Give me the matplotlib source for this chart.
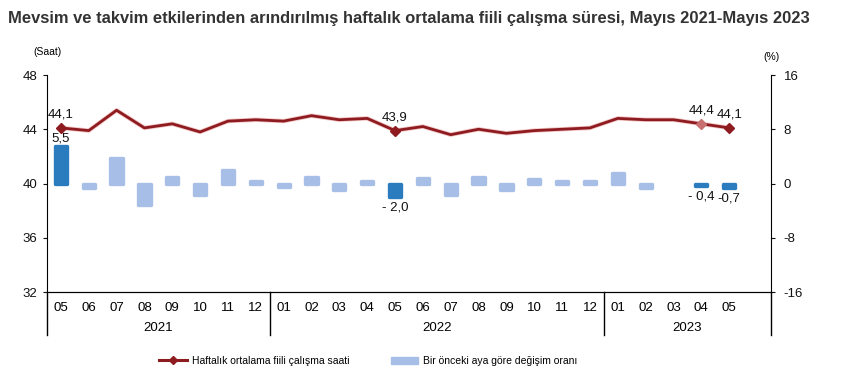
import matplotlib.pyplot as plt
from matplotlib import patheffects as pe
from matplotlib.transforms import blended_transform_factory

# =====================
# 全局设置
# =====================
plt.rcParams['font.family'] = ['Liberation Sans', 'DejaVu Sans']
plt.rcParams['axes.unicode_minus'] = False

# =====================
# 数据
# =====================
months = ['05', '06', '07', '08', '09', '10', '11', '12',
          '01', '02', '03', '04', '05', '06', '07', '08', '09', '10', '11', '12',
          '01', '02', '03', '04', '05']
years = ['2021', '2022', '2023']

hours = [44.1, 43.9, 45.4, 44.1, 44.4, 43.8, 44.6, 44.7,
         44.6, 45.0, 44.7, 44.8, 43.9, 44.2, 43.6, 44.0, 43.7, 43.9, 44.0, 44.1,
         44.8, 44.7, 44.7, 44.4, 44.1]

change = [5.5, -0.7, 3.7, -3.2, 0.9, -1.7, 2.0, 0.4,
          -0.5, 1.0, -1.0, 0.3, -2.0, 0.8, -1.7, 1.0, -1.0, 0.6, 0.3, 0.3,
          1.6, -0.7, 0.0, -0.4, -0.7]

highlight = [0, 12, 23, 24]
hour_labels = {0: '44,1', 12: '43,9', 23: '44,4', 24: '44,1'}
change_labels = {0: '5,5', 12: '- 2,0', 23: '- 0,4', 24: '-0,7'}

# =====================
# Figure
# =====================
fig = plt.figure(figsize=(8.57, 3.88), dpi=100)
ax = fig.add_axes([0.0548, 0.2474, 0.8448, 0.5593])
ax2 = ax.twinx()

x = list(range(len(months)))

# bars (right axis)
light = '#A7BFE6'
dark = '#2B7BBF'
bar_colors = [dark if i in highlight else light for i in x]
bar_lw = [0 if v == 0 else 2.4 for v in change]
ax2.bar(x, change, width=0.44, color=bar_colors, edgecolor=bar_colors,
        linewidth=bar_lw, joinstyle='round', zorder=2)
ax2.set_ylim(-16, 16)
ax2.set_yticks([-16, -8, 0, 8, 16])

# line (left axis)
ax.set_zorder(ax2.get_zorder() + 1)
ax.patch.set_visible(False)
ax.plot(x, hours, color='#8E1B1F', linewidth=2.0, zorder=3,
        path_effects=[pe.Stroke(linewidth=3.2, foreground='#F2C6C6'), pe.Normal()])
mk_colors = ['#8E1B1F', '#8E1B1F', '#C8706F', '#8E1B1F']
for i, c in zip(highlight, mk_colors):
    ax.plot(x[i], hours[i], marker='D', markersize=5, color=c, zorder=4)
ax.set_ylim(32, 48)
ax.set_yticks([32, 36, 40, 44, 48])
ax.set_xlim(-0.5, 25.5)

# value labels
for i, t in hour_labels.items():
    ax.annotate(t, (x[i], hours[i]), xytext=(0, 5), textcoords='offset points',
                ha='center', va='bottom', fontsize=9.5, color='#111111')
for i, t in change_labels.items():
    if change[i] >= 0:
        ax2.annotate(t, (x[i], change[i]), xytext=(0, 1), textcoords='offset points',
                     ha='center', va='bottom', fontsize=9.5, color='#111111')
    else:
        ax2.annotate(t, (x[i], change[i]), xytext=(0, -3), textcoords='offset points',
                     ha='center', va='top', fontsize=9.5, color='#111111')

# spines and ticks
for a in (ax, ax2):
    a.spines['top'].set_visible(False)
    a.tick_params(axis='y', labelsize=9.5, length=3, width=0.8, colors='#111111')
ax.spines['right'].set_visible(False)
ax2.spines['left'].set_visible(False)
ax.tick_params(axis='y', pad=4)
ax2.tick_params(axis='y', pad=6)

# two-level x axis
ax.set_xticks(x)
ax.set_xticklabels(months, fontsize=9.5)
ax.tick_params(axis='x', length=0, pad=7)

trans = blended_transform_factory(ax.transData, ax.transAxes)
for sep in [-0.5, 7.5, 19.5, 25.5]:
    ax.plot([sep, sep], [0, -0.198], transform=trans, color='black',
            linewidth=1.0, clip_on=False)
for yr, (a, b) in zip(years, [(0, 7), (8, 19), (20, 25)]):
    ax.text((a + b) / 2, -0.168, yr, transform=trans, ha='center', va='center',
            fontsize=9.5)

# titles
fig.text(0.009, 0.953,
         'Mevsim ve takvim etkilerinden arındırılmış haftalık ortalama fiili çalışma süresi, Mayıs 2021-Mayıs 2023',
         fontsize=11.9, fontweight='bold', color='#333333', ha='left', va='center')
fig.text(0.039, 0.866, '(Saat)', fontsize=7.5, ha='left', va='center')
fig.text(0.891, 0.853, '(%)', fontsize=7.5, ha='left', va='center')

# legend
handles = [
    plt.Line2D([], [], color='#8E1B1F', linewidth=2.2, marker='D', markersize=4),
    plt.Rectangle((0, 0), 1, 1, color=light),
]
fig.legend(handles, ['Haftalık ortalama fiili çalışma saati', 'Bir önceki aya göre değişim oranı'],
           loc='center', bbox_to_anchor=(0.43, 0.07), ncol=2, frameon=False,
           fontsize=7.5, handlelength=2.6, columnspacing=4, handletextpad=0.5)

fig.savefig('out.png', dpi=100)
